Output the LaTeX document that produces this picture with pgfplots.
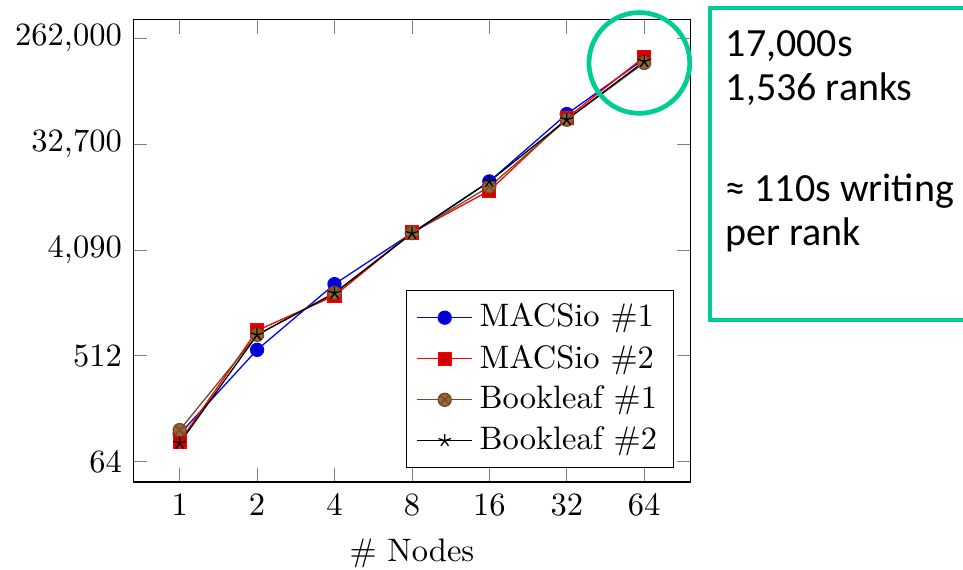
\documentclass[border=0pt]{standalone}
\usepackage{pgfplots}
\pgfplotsset{compat=1.18}
\usepackage{fontspec}
\newfontfamily\carlito{Carlito}[Numbers={Monospaced,Lining}]
\definecolor{mint}{RGB}{0,204,150}
\begin{document}
\begin{tikzpicture}
\useasboundingbox (0,0) rectangle (296.3pt,175.1pt);
\begin{axis}[
  scale only axis,
  at={(41.0pt,26.8pt)},
  anchor=south west,
  width=171.5pt, height=142.2pt,
  xmode=log, ymode=log, log basis x=2, log basis y=2,
  xmin=0.66, xmax=97.0,
  ymin=42.9, ymax=375500,
  xtick={1,2,4,8,16,32,64},
  xticklabels={1,2,4,8,16,32,64},
  ytick={64,512,4096,32768,262144},
  yticklabels={64,512,{4,090},{32,700},{262,000}},
  minor tick num=0,
  xlabel={\# Nodes},
  legend pos=south east,
  legend cell align=left,
]
\addplot coordinates {(1,110) (2,575) (4,2090) (8,5700) (16,15700) (32,59000) (64,174000)};
\addlegendentry{MACSio \#1}
\addplot coordinates {(1,95) (2,840) (4,1665) (8,5750) (16,13100) (32,54600) (64,181000)};
\addlegendentry{MACSio \#2}
\addplot coordinates {(1,119) (2,772) (4,1760) (8,5700) (16,14200) (32,52800) (64,161000)};
\addlegendentry{Bookleaf \#1}
\addplot coordinates {(1,92) (2,770) (4,1750) (8,5650) (16,15700) (32,52800) (64,166000)};
\addlegendentry{Bookleaf \#2}
\coordinate (c) at (axis cs:61.3,161000);
\end{axis}
\draw[mint, line width=1.45pt] (c) circle[radius=15.5pt];
\draw[mint, line width=1.25pt] (300pt,172.5pt) -- (218.5pt,172.5pt) -- (218.5pt,76.6pt) -- (300pt,76.6pt);
\begin{scope}[every node/.style={anchor=base west, inner sep=0pt, font=\carlito\fontsize{12.3}{14}\selectfont}]
\node at (223.1pt,157.7pt) {17,000s};
\node at (223.1pt,144.3pt) {1,536 ranks};
\node at (223.1pt,113.0pt) {≈ 110s writing};
\node at (223.1pt,99.7pt) {per rank};
\end{scope}
\end{tikzpicture}
\end{document}
